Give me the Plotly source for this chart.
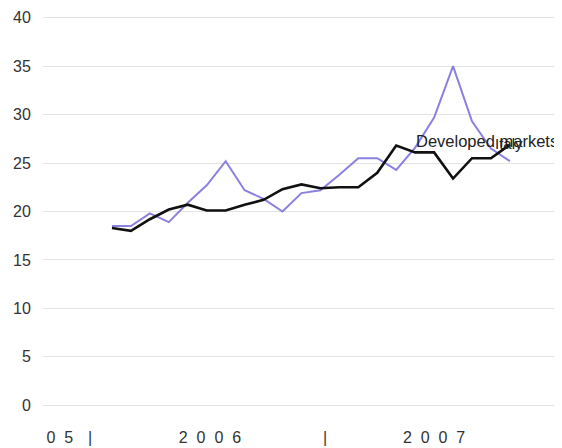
import plotly.graph_objects as go

# period index (roughly monthly, early 2006 to late 2007)
periods = list(range(22))

developed_markets = [18.5, 18.5, 19.8, 18.9, 20.9, 22.7, 25.2, 22.2, 21.3, 20.0, 21.9,
                     22.2, 23.8, 25.5, 25.5, 24.3, 26.6, 29.7, 35.0, 29.3, 26.5, 25.2]
italy = [18.3, 18.0, 19.2, 20.2, 20.7, 20.1, 20.1, 20.7, 21.2, 22.3, 22.8,
         22.4, 22.5, 22.5, 24.0, 26.8, 26.1, 26.1, 23.4, 25.5, 25.5, 26.9]

x_tick_vals = [-2.75, -1.16, 5.17, 11.24, 17.0]
x_tick_text = ["0  5", "|", "2  0  0  6", "|", "2  0  0  7"]
y_tick_vals = [0, 5, 10, 15, 20, 25, 30, 35, 40]

label_dev = "Developed markets"
label_italy = "Italy"

fig = go.Figure()
fig.add_trace(go.Scatter(x=periods, y=developed_markets, mode="lines", name=label_dev,
                         line=dict(color="#8a80e0", width=2)))
fig.add_trace(go.Scatter(x=periods, y=italy, mode="lines", name=label_italy,
                         line=dict(color="#111111", width=2.6)))

fig.add_annotation(x=15.95, y=27.3, xref="x", yref="y", text=label_dev, showarrow=False,
                   xanchor="left", yanchor="middle",
                   font=dict(family="Liberation Sans, Arial", size=16.5, color="#222222"))
fig.add_annotation(x=20.1, y=27.0, xref="x", yref="y", text=label_italy, showarrow=False,
                   xanchor="left", yanchor="middle",
                   font=dict(family="Liberation Sans, Arial", size=15, color="#222222"))

# page body adds an 8px offset, so the figure is sized to the remaining window
fig.update_layout(
    width=554, height=440,
    margin=dict(l=35, r=7, t=0, b=33, autoexpand=False),
    paper_bgcolor="white", plot_bgcolor="white",
    showlegend=False,
    font=dict(family="Liberation Sans, Arial", size=16, color="#333333"),
)
fig.update_xaxes(range=[-3.64, 23.38], tickmode="array", tickvals=x_tick_vals,
                 ticktext=x_tick_text, showgrid=False, zeroline=False, showline=False,
                 ticks="outside", ticklen=8, tickcolor="rgba(0,0,0,0)", automargin=False,
                 tickfont=dict(size=16, color="#333333"))
fig.update_yaxes(range=[-1, 41], tickmode="array", tickvals=y_tick_vals,
                 showgrid=True, gridcolor="#e3e3e3", gridwidth=1, zeroline=False,
                 showline=False, ticks="outside", ticklen=8, tickcolor="rgba(0,0,0,0)",
                 automargin=False, tickfont=dict(size=16, color="#333333"))

fig.write_html("out.html")
